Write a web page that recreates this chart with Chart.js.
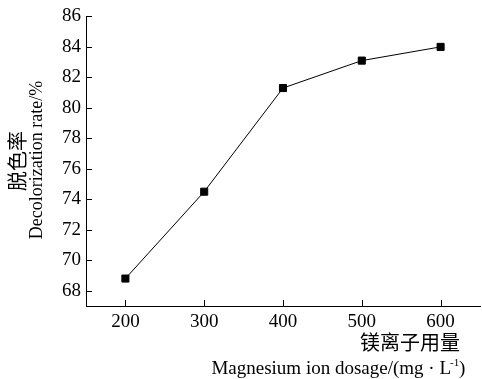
<!DOCTYPE html>
<html>
<head>
<meta charset="utf-8">
<script src="https://cdn.jsdelivr.net/npm/chart.js@4.4.0/dist/chart.umd.min.js"></script>
<style>
  html, body { margin:0; padding:0; background:#fff; }
  #wrap { width:482px; height:379px; }
</style>
</head>
<body>
<div id="wrap"><canvas id="c" width="482" height="379"></canvas></div>
<script>
// data
const dosage = [200, 300, 400, 500, 600];
const decolorRate = [68.8, 74.5, 81.3, 83.1, 84.0];
const xTicks = [200, 300, 400, 500, 600];
const yTicks = [68, 70, 72, 74, 76, 78, 80, 82, 84, 86];

const serif = "Liberation Serif";
const cjk = "'Noto Sans CJK SC', sans-serif";

Chart.defaults.font.family = serif;
Chart.defaults.color = '#000';

// inward tick marks + axis titles
const extras = {
  id: 'extras',
  afterDraw(chart){
    const ctx = chart.ctx;
    const a = chart.chartArea;
    const xs = chart.scales.x, ys = chart.scales.y;
    ctx.save();
    ctx.strokeStyle = '#000';
    ctx.lineWidth = 1;
    ctx.beginPath();
    yTicks.forEach(v=>{
      const py = Math.round(ys.getPixelForValue(v)) + 0.5;
      ctx.moveTo(a.left, py); ctx.lineTo(a.left + 6, py);
    });
    xTicks.forEach(v=>{
      const px = Math.round(xs.getPixelForValue(v)) + 0.5;
      ctx.moveTo(px, a.bottom); ctx.lineTo(px, a.bottom - 6);
    });
    ctx.stroke();

    ctx.fillStyle = '#000';
    // y title, two lines
    ctx.save();
    ctx.translate(17, 161);
    ctx.rotate(-Math.PI/2);
    ctx.textAlign = 'center';
    ctx.textBaseline = 'middle';
    ctx.font = '20px ' + cjk;
    ctx.fillText('脱色率', 0, 0);
    ctx.restore();
    ctx.save();
    ctx.translate(37, 160);
    ctx.rotate(-Math.PI/2);
    ctx.textAlign = 'center';
    ctx.textBaseline = 'middle';
    ctx.font = '18px "' + serif + '"';
    ctx.fillText('Decolorization rate/%', 0, 0);
    ctx.restore();

    // x title, two lines right aligned
    ctx.textAlign = 'right';
    ctx.textBaseline = 'middle';
    ctx.font = '20px ' + cjk;
    ctx.fillText('镁离子用量', 460, 342);
    ctx.font = '19px "' + serif + '"';
    ctx.fillText('Magnesium ion dosage/(mg · L', 451, 369);
    ctx.font = '11px "' + serif + '"';
    ctx.textAlign = 'left';
    ctx.fillText('-1', 450, 363);
    ctx.font = '19px "' + serif + '"';
    ctx.fillText(')', 459, 369);
    ctx.restore();
  }
};

new Chart(document.getElementById('c'), {
  type: 'scatter',
  data: {
    datasets: [{
      data: dosage.map((x,i)=>({x:x, y:decolorRate[i]})),
      showLine: true,
      borderColor: '#000',
      borderWidth: 1,
      backgroundColor: '#000',
      pointStyle: 'rect',
      pointRadius: 5,
      pointHoverRadius: 5
    }]
  },
  options: {
    responsive: false,
    animation: false,
    devicePixelRatio: 1,
    layout: { autoPadding: false, padding: { top: 13, right: 2, left: 0, bottom: 0 } },
    plugins: { legend: { display: false }, tooltip: { enabled: false } },
    scales: {
      x: {
        type: 'linear',
        min: 150, max: 650,
        afterBuildTicks: s => { s.ticks = xTicks.map(v=>({value:v})); },
        afterFit: s => { s.height = 73; },
        grid: { display: false, drawTicks: false },
        border: { display: true, color: '#000', width: 1 },
        ticks: { color: '#000', padding: 5, font: { family: serif, size: 19 } }
      },
      y: {
        min: 67, max: 86,
        afterBuildTicks: s => { s.ticks = yTicks.map(v=>({value:v})); },
        afterFit: s => { s.width = 86; },
        grid: { display: false, drawTicks: false },
        border: { display: true, color: '#000', width: 1 },
        ticks: { color: '#000', padding: 5, font: { family: serif, size: 19 } }
      }
    }
  },
  plugins: [extras]
});
</script>
</body>
</html>
